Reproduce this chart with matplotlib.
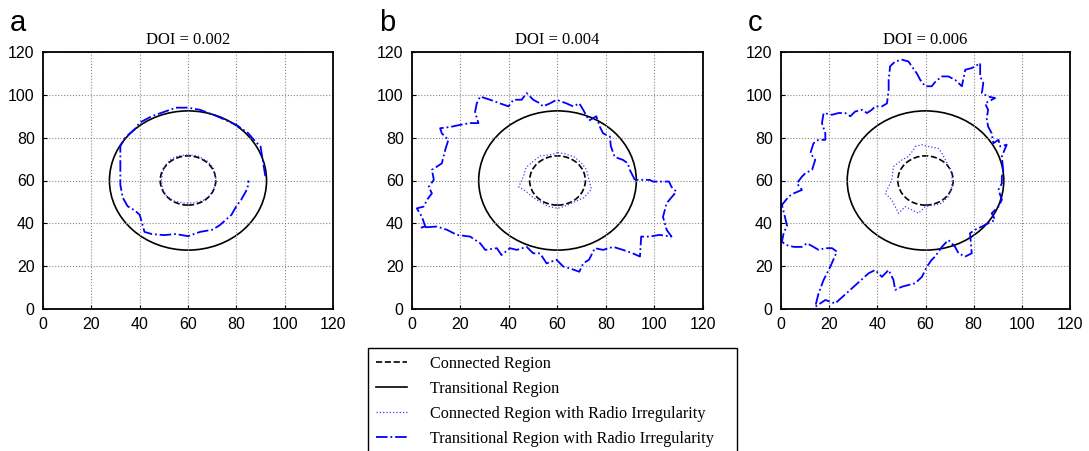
import numpy as np
import matplotlib.pyplot as plt
from matplotlib.patches import Circle
from matplotlib.lines import Line2D

# Ideal radio ranges (circles around the node at the centre)
center = (60, 60)
r_connected = 11.5
r_transitional = 32.5

doi_values = [0.002, 0.004, 0.006]
panel_letters = ['a', 'b', 'c']

# Transitional region boundary with radio irregularity, DOI = 0.002
trans_a_x = [92, 90, 88, 85, 80, 72, 65, 60, 55, 50, 45, 40, 38, 34, 32, 32, 32, 32, 33, 35, 38, 40,
             41, 42, 45, 50, 55, 60, 65, 70, 73, 75, 78, 80, 82, 84, 85, 85]
trans_a_y = [62, 76, 78, 82, 86, 90, 93, 94, 94, 92, 90, 87, 84, 80, 76, 70, 64, 58, 52, 48, 46, 44,
             40, 36, 35, 34.5, 35, 34, 36, 37, 39, 41, 44, 48, 51, 55, 58, 60]

# Connected region boundary with radio irregularity, DOI = 0.002
conn_a_x = [60, 64, 68, 70.5, 71.5, 71, 69, 66, 62, 58, 54, 51, 49.5, 49, 49.5, 51, 53, 56, 60]
conn_a_y = [72, 71.5, 69, 66, 61, 57, 53, 50.5, 49.5, 49.5, 50.5, 53, 56, 60, 64, 67.5, 70, 71.5, 72]

# DOI = 0.004
trans_b_x = [91.9, 89.8, 89, 87, 83.6, 82, 81.6, 78.8, 77.5, 76, 73, 70.6, 69, 66.5, 63.7, 59.6, 56.9,
             54, 52.8, 50, 47.3, 45.2, 41.8, 39.8, 36.3, 32.2, 28.1, 26.7, 26, 27.4, 24, 19.9, 15.8,
             11.6, 12.3, 15, 13.7, 12.3, 10.3, 8.2, 9, 6.9, 8.2, 6.2, 4.8, 2, 4.1, 5.5, 3.4, 10.3,
             14.4, 18.5, 24, 28.1, 30.2, 35, 36.9, 40.4, 43.2, 47.3, 50, 52.8, 55.5, 59.6, 62.4, 65,
             69, 70.6, 73, 75.4, 78.8, 83, 87, 91, 94, 94.5, 98, 102, 107, 105, 103.5, 105, 109, 107,
             106, 103.5, 99.4, 98, 91.9]
trans_b_y = [60.3, 65, 68, 69.6, 71, 76, 80.5, 82, 85, 90, 88, 93, 96, 94.6, 96, 97.7, 96,
             94.6, 96, 97.7, 100.8, 97.7, 97.7, 94.6, 96, 97.7, 99.2, 96, 92, 86.8, 86.8, 86, 85,
             84.4, 82, 79, 74.3, 68, 66.5, 65, 60.3, 57, 54, 51, 47.8, 47, 43, 38.5, 38, 38.5,
             37, 34.6, 33.8, 30.7, 27.6, 28.4, 25.2, 28.4, 27.6, 29, 26, 26, 21.3, 23, 19.8, 19,
             17.4, 21.3, 23, 28.4, 27.6, 29, 27.6, 26, 24.5, 33.8, 33.8, 34.6, 33.8, 37, 43, 49.4, 54.8, 57,
             59.5, 59.5, 59.5, 60.3, 60.3]

conn_b_x = [60, 57, 53, 50, 47, 46, 44, 47, 50, 53, 56, 60, 63, 67, 71, 74, 73, 72, 70, 67, 63, 60]
conn_b_y = [73, 72, 71.5, 69, 66, 62, 57, 55, 52, 50, 48, 47, 48, 50, 52, 56, 60, 65, 68, 71, 72.5, 73]

# DOI = 0.006
trans_c_x = [92.3, 91.7, 93.7, 91, 90.3, 88.2, 87.5, 86, 85.4, 86, 84.7, 88.9, 86, 83.4, 84, 82.7,
             82.7, 80.6, 79.2, 76.5, 75.1, 72.3, 69.5, 66.8, 64, 62.6, 59.9, 57.8, 56.4, 54.3, 52.9,
             50.2, 47.4, 45.3, 44.7, 44.7, 44, 41.9, 39.1, 37.7, 35.7, 33.6, 30.8, 28.8, 26.7, 23.9,
             21.2, 17.7, 17, 18.4, 18.4, 15.6, 13.5, 12.2, 14.2, 12.9, 10.1, 8.7, 6.6, 8.7, 5.3, 3.2,
             0.4, 2.5, 1.1, 0.4, 1.8, 5.3, 8.7, 10.8, 13.5, 15.6, 18.4, 21.2, 23.2, 20.5, 17.7, 15.6,
             14.2, 18.4, 22.5, 36.4, 39.1, 41.9, 44.7, 46.7, 47.4, 50.2, 52.9, 55.7, 58.5, 60.6, 62.6,
             64, 66.8, 69.5, 72.3, 73.7, 76.5, 79.2, 78.5, 80.6, 83.4, 86, 88.9, 87.5, 90.3, 91.7,
             90.3, 91.7, 91.7, 92.3]
trans_c_y = [64.2, 71.2, 76.7, 75.9, 79, 77.4, 82, 85.2, 89, 93, 96, 98.5, 99.2, 100.8, 105.5, 108.6,
             114.8, 113.3, 112.5, 111.7, 104, 107, 108.6, 108.6, 106, 104, 104, 107, 110, 113.3, 115.6,
             116.4, 115.6, 113.3, 107, 102.4, 96, 94.6, 94.6, 93, 91.5, 93, 92.2, 90, 91.5, 91.5,
             90.7, 91.5, 86.8, 82, 79, 79, 77.4, 72.8, 69.6, 65, 63.4, 61.8, 58.7, 55.6, 54, 52.5,
             48.6, 39, 35.4, 31.5, 30, 29, 29, 30.7, 29, 27.6, 28.4, 28.4, 26.8, 19.8, 13.6, 7.3,
             1, 4.2, 2.6, 16.7, 18.2, 15, 18.2, 13.6, 8.9, 10.4, 11.2, 12, 15, 19.8, 23,
             24.5, 29, 32.2, 29, 26, 24.5, 26, 35.4, 37, 38.5, 40, 41.6, 44.7, 47.8, 51,
             55.6, 58.7, 61.8, 64.2]

conn_c_x = [55.7, 58.5, 61.2, 65.4, 66.8, 69, 71, 71, 69.5, 66.8, 64, 59.9, 57.1, 54.3, 51.6, 48.8,
            47.4, 46, 43.3, 44.7, 46, 46.7, 50.2, 52.9, 55, 55.7]
conn_c_y = [75.9, 76.7, 75.9, 75, 72.8, 68, 63, 57, 52.5, 49.4, 48.6, 47.8, 44.7, 46.3, 47.8, 44.7,
            47.8, 51, 54, 57.2, 60.3, 66.5, 69.6, 71.2, 74.3, 75.9]

trans_irr = [(trans_a_x, trans_a_y), (trans_b_x, trans_b_y), (trans_c_x, trans_c_y)]
conn_irr = [(conn_a_x, conn_a_y), (conn_b_x, conn_b_y), (conn_c_x, conn_c_y)]

legend_labels = ['Connected Region', 'Transitional Region',
                 'Connected Region with Radio Irregularity',
                 'Transitional Region with Radio Irregularity']

serif = 'Liberation Serif'
sans = 'Liberation Sans'

fig = plt.figure(figsize=(10.89, 4.51), dpi=100)
lefts = [43, 412, 781]
widths = [290, 291, 289]

for i in range(3):
    ax = fig.add_axes([lefts[i] / 1089, (451 - 309) / 451, widths[i] / 1089, 257 / 451])

    ax.add_patch(Circle(center, r_connected, fill=False, color='black', linestyle='--', linewidth=1.2))
    ax.add_patch(Circle(center, r_transitional, fill=False, color='black', linestyle='-', linewidth=1.2))
    ax.plot(conn_irr[i][0], conn_irr[i][1], color='#3c3cff', linestyle=':', linewidth=0.9)
    ax.plot(trans_irr[i][0], trans_irr[i][1], color='#0000ff', linestyle='-.', linewidth=1.3)

    ax.set_xlim(0, 120)
    ax.set_ylim(0, 120)
    ax.set_xticks(np.arange(0, 121, 20))
    ax.set_yticks(np.arange(0, 121, 20))
    ax.tick_params(direction='in', length=3, labelsize=11.5, width=0.8, pad=6)
    for lab in ax.get_xticklabels() + ax.get_yticklabels():
        lab.set_fontfamily(sans)
    ax.grid(True, linestyle=':', color='#888888', linewidth=0.8)
    for sp in ax.spines.values():
        sp.set_linewidth(1.3)
    ax.set_title('DOI = {0}'.format(doi_values[i]), fontsize=12, family=serif, pad=6)

    fig.text((lefts[i] - 33) / 1089, 1 - 31 / 451, panel_letters[i], fontsize=21, family=sans)

handles = [Line2D([], [], color='black', linestyle='--', linewidth=1.2),
           Line2D([], [], color='black', linestyle='-', linewidth=1.2),
           Line2D([], [], color='#3c3cff', linestyle=':', linewidth=0.9),
           Line2D([], [], color='#0000ff', linestyle='-.', linewidth=1.3)]
leg = fig.legend(handles, legend_labels, loc='upper left', mode='expand',
                 bbox_to_anchor=(368 / 1089, 1 - 348 / 451, 369 / 1089, 0), fancybox=False,
                 prop={'family': serif, 'size': 11.7}, handlelength=1.9, handletextpad=1.4,
                 labelspacing=0.55, borderpad=0.5, borderaxespad=0, framealpha=1)
leg.get_frame().set_edgecolor('black')
leg.get_frame().set_linewidth(1.0)

fig.savefig('out.png', dpi=100)
